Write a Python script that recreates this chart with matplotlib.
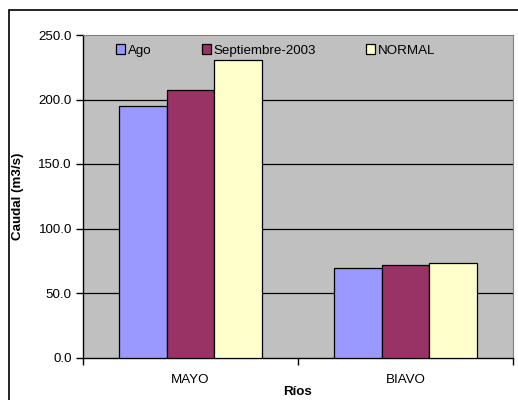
import numpy as np
import matplotlib.pyplot as plt
from matplotlib.patches import Rectangle

plt.rcParams['font.family'] = ['Liberation Sans', 'DejaVu Sans']

rios = ['MAYO', 'BIAVO']
series = ['Ago', 'Septiembre-2003', 'NORMAL']
ago = [195.0, 69.5]
sept = [207.0, 72.0]
normal = [230.5, 73.0]
colors = ['#9999FF', '#993366', '#FFFFCC']
yticks = [0, 50, 100, 150, 200, 250]

fs = 9.6
fig = plt.figure(figsize=(5.18, 4.0), dpi=100)
# outer chart frame (cut off at right and bottom like the original)
fig.patches.append(Rectangle((9 / 518, -0.05), 1.2, 1 - 10 / 400 + 0.05,
                             transform=fig.transFigure, fill=False,
                             edgecolor='black', linewidth=1.2))

ax = fig.add_axes([83 / 518, 42.5 / 400, 430 / 518, 322.5 / 400])
ax.set_facecolor('#C0C0C0')

x = np.arange(len(rios))
w = 0.223
for i, (vals, name) in enumerate(zip([ago, sept, normal], series)):
    ax.bar(x + (i - 1) * w, vals, w, color=colors[i], edgecolor='black',
           linewidth=0.9, label=name, zorder=3)

ax.set_xlim(-0.5, 1.5)
ax.set_ylim(0, 250)
ax.set_yticks(yticks)
ax.set_yticklabels([f'{v:.1f}' for v in yticks], fontsize=fs)
for v in yticks[1:-1]:
    ax.axhline(v, color='black', linewidth=0.9, zorder=1)

ax.set_xticks(x)
ax.set_xticklabels(rios, fontsize=fs)
ax.set_xticks([-0.5, 0.5, 1.5], minor=True)
ax.tick_params(axis='x', which='major', length=0, pad=12)
ax.tick_params(axis='x', which='minor', length=5, width=1, direction='out')
ax.tick_params(axis='y', length=5, width=1, direction='out', pad=3)

for s in ['top', 'right']:
    ax.spines[s].set_color('#808080')
    ax.spines[s].set_linewidth(0.8)
for s in ['left', 'bottom']:
    ax.spines[s].set_color('black')
    ax.spines[s].set_linewidth(1)

ax.set_ylabel('Caudal (m3/s)', fontsize=fs, fontweight='bold', labelpad=10)
ax.set_xlabel('Ríos', fontsize=fs, fontweight='bold', labelpad=0)

ax.legend(loc='upper left', bbox_to_anchor=(0.055, 1.0), ncol=3, frameon=False,
          fontsize=fs, handlelength=0.7, handleheight=0.7, handletextpad=0.2,
          columnspacing=3.75, borderaxespad=0.3)

plt.savefig('out.png', dpi=100)
